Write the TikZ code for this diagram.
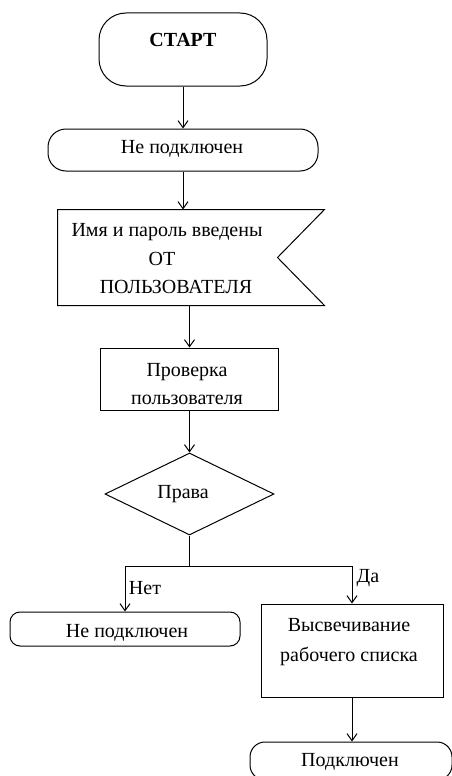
\documentclass[tikz,border=0pt]{standalone}
\usepackage{fontspec}
\setmainfont{Liberation Serif}
\usetikzlibrary{arrows.meta,shapes.geometric}
\begin{document}
\begin{tikzpicture}[x=1pt,y=-1pt,line width=1pt,
  txt/.style={font=\fontsize{20}{28}\selectfont, inner sep=0pt, align=center},
  term/.style={draw, rectangle, inner sep=0pt},
  proc/.style={draw, rectangle, inner sep=0pt},
  decision/.style={draw, diamond, inner sep=0pt, minimum width=169pt, minimum height=82pt},
  arr/.style={-{Straight Barb[length=7pt,width=10pt]}}]
\useasboundingbox (0,0) rectangle (451,776);
% shapes
\node[term, rounded corners=27pt, minimum width=168pt, minimum height=73pt] (start) at (183,49.5) {};
\node[txt, font=\fontsize{20}{28}\selectfont\bfseries] (startt) at (183,40) {СТАРТ};
\node[term, rounded corners=18pt, minimum width=270pt, minimum height=42pt] (ne1) at (183,150) {};
\node[txt] (ne1t) at (182,149) {Не подключен};
\node[minimum width=266pt, minimum height=95pt, inner sep=0pt] (flag) at (191,257.5) {};
\draw (flag.north west) -- (flag.north east) -- ([xshift=-47pt]flag.east) -- (flag.south east) -- (flag.south west) -- cycle;
\node[txt] (flagt1) at (167,232) {Имя и пароль введены};
\node[txt] (flagt2) at (162,259) {ОТ};
\node[txt] (flagt3) at (176,287) {ПОЛЬЗОВАТЕЛЯ};
\node[proc, minimum width=178pt, minimum height=62pt] (check) at (189.5,379) {};
\node[txt] (checkt) at (187,384) {Проверка\\пользователя};
\node[decision] (dia) at (189.5,494) {};
\node[txt] (diat) at (183,494) {Права};
\node[term, rounded corners=10pt, minimum width=230pt, minimum height=34pt] (ne2) at (125,629) {};
\node[txt] (ne2t) at (127,633) {Не подключен};
\node[proc, minimum width=182pt, minimum height=93pt] (disp) at (352,650.5) {};
\node[txt, font=\fontsize{20}{30}\selectfont] (dispt) at (349,642) {Высвечивание\\рабочего списка};
\node[term, rounded corners=15pt, minimum width=202pt, minimum height=38pt] (conn) at (351,761) {};
\node[txt] (connt) at (350,762) {Подключен};
% connectors
\draw[arr] (start.south) -- (ne1.north);
\draw[arr] (ne1.south) -- (ne1.south |- flag.north);
\draw[arr] (check.north |- flag.south) -- (check.north);
\draw[arr] (check.south) -- (dia.north);
\draw (dia.south) -- ++(0,31) coordinate (br);
\draw[arr] (br) -| (ne2.north);
\draw[arr] (br) -| (disp.north);
\draw[arr] (disp.south) -- (disp.south |- conn.north);
% labels
\node[txt] (no) at (145,588) {Нет};
\node[txt] (yes) at (368,578) {Да};
\end{tikzpicture}
\end{document}
